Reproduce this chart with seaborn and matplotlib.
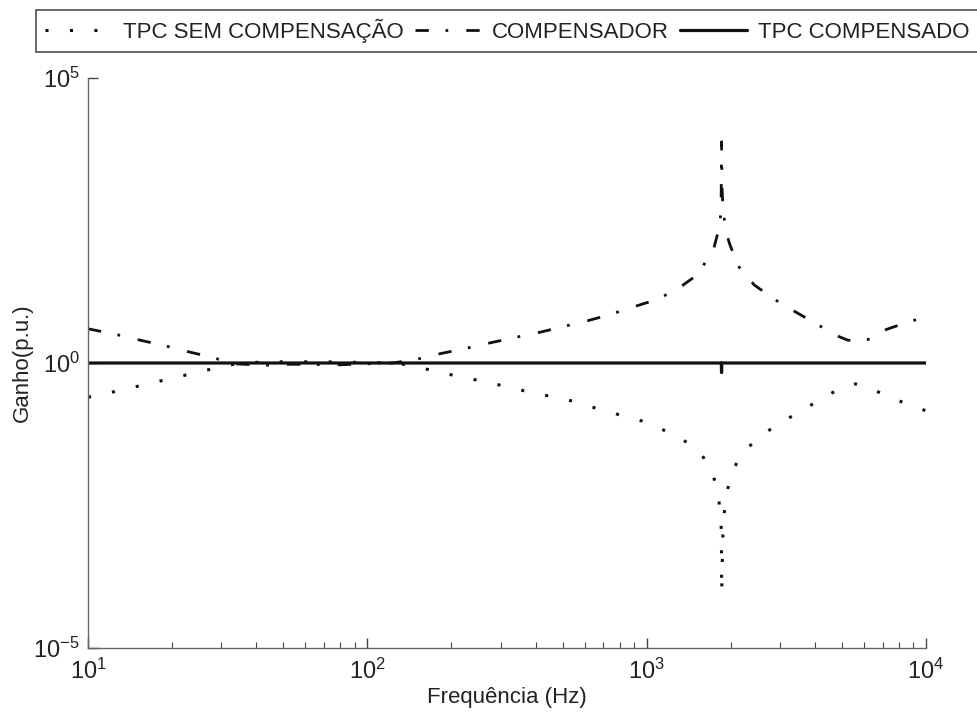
import numpy as np
import pandas as pd
import seaborn as sns
import matplotlib.pyplot as plt
from matplotlib.ticker import FuncFormatter, LogLocator, NullLocator

# Values (frequency in Hz, gain in p.u.)
freq_sem = [10, 12.0, 14.1, 16.6, 19.5, 22.9, 26.9, 31.6, 37.2, 50, 70.8, 100, 126,
            145, 200, 282, 380, 525, 708, 966, 1288, 1466, 1585, 1718, 1797, 1832,
            1852, 1853, 1854, 1856, 1866, 1873, 1888, 1920, 1989, 2113, 2333, 2640,
            3020, 3455, 3963, 4536, 5218, 5600, 6118, 7063, 8436, 9772, 10000]
gain_sem = [0.251, 0.302, 0.363, 0.437, 0.525, 0.631, 0.759, 0.912, 1.02, 1.05, 1.05,
            1.02, 1.0, 0.89, 0.62, 0.437, 0.309, 0.224, 0.145, 0.0955, 0.0525, 0.0339,
            0.0234, 0.0120, 0.00562, 0.00251, 0.00112, 5.0e-4, 2.1e-4, 9.3e-5, 3.8e-4,
            8.7e-4, 1.9e-3, 4.4e-3, 9.3e-3, 0.0191, 0.0347, 0.0589, 0.0891, 0.132,
            0.195, 0.288, 0.398, 0.43, 0.380, 0.282, 0.195, 0.151, 0.145]

freq_comp = [10, 12.5, 15.4, 18.9, 23.2, 28.4, 32.1, 43, 52.5, 79.4, 123, 150, 185,
             227, 279, 340, 416, 504, 614, 740, 891, 1072, 1276, 1521, 1734, 1832,
             1848, 1854, 1860, 1879, 1928, 1977, 2128, 2427, 2858, 3373, 4009, 4732,
             5250, 5781, 6310, 6855, 8730, 10000]
gain_comp = [3.98, 3.20, 2.51, 2.00, 1.55, 1.23, 0.98, 0.91, 0.95, 0.93, 1.0, 1.16,
             1.48, 1.82, 2.29, 2.82, 3.47, 4.37, 5.50, 7.08, 9.55, 12.7, 19.1, 35.5,
             97.7, 269, 794, 7590, 1259, 447, 200, 126, 50.1, 23.4, 13.2, 8.13, 5.01,
             3.09, 2.51, 2.45, 2.63, 3.55, 5.37, 6.31]

freq_tot = [10, 1850, 1854, 1858, 10000]
gain_tot = [1.0, 1.0, 0.68, 1.0, 1.0]

labels = ['TPC SEM COMPENSAÇÃO', 'COMPENSADOR', 'TPC COMPENSADO']

sns.set_style('white')
plt.rcParams['font.family'] = ['Liberation Sans', 'DejaVu Sans']
plt.rcParams['mathtext.fontset'] = 'custom'
plt.rcParams['mathtext.rm'] = 'Liberation Sans'
plt.rcParams['mathtext.it'] = 'Liberation Sans'
plt.rcParams['mathtext.default'] = 'regular'
fs = 16

fig = plt.figure(figsize=(9.78, 7.18), dpi=100)
ax = fig.add_axes([88 / 978, 1 - 648 / 718, (926 - 88) / 978, (648 - 78) / 718])

df_sem = pd.DataFrame({'f': freq_sem, 'g': gain_sem})
df_comp = pd.DataFrame({'f': freq_comp, 'g': gain_comp})
df_tot = pd.DataFrame({'f': freq_tot, 'g': gain_tot})

sns.lineplot(data=df_sem, x='f', y='g', sort=False, estimator=None, ax=ax,
             color='#111111', lw=2.2, linestyle=(0, (1, 7)), label=labels[0])
sns.lineplot(data=df_comp, x='f', y='g', sort=False, estimator=None, ax=ax,
             color='#111111', lw=2.0, linestyle=(0, (4.8, 6.0, 1.0, 6.5)), label=labels[1])
sns.lineplot(data=df_tot, x='f', y='g', sort=False, estimator=None, ax=ax,
             color='#111111', lw=2.3, label=labels[2])

ax.set_xscale('log')
ax.set_yscale('log')
ax.set_xlim(10, 1e4)
ax.set_ylim(1e-5, 1e5)
ax.set_yticks([1e-5, 1, 1e5])
ax.yaxis.set_minor_locator(NullLocator())
ax.xaxis.set_major_locator(LogLocator(base=10))
ax.xaxis.set_minor_locator(LogLocator(base=10, subs=np.arange(2, 10)))

fmt = FuncFormatter(lambda v, _: r'$10^{%d}$' % int(round(np.log10(v))))
ax.xaxis.set_major_formatter(fmt)
ax.yaxis.set_major_formatter(fmt)

for s in ['top', 'right']:
    ax.spines[s].set_visible(False)
for s in ['left', 'bottom']:
    ax.spines[s].set_color('#666666')
    ax.spines[s].set_linewidth(1.0)

ax.tick_params(which='both', direction='in', bottom=True, left=True,
               color='#444444', labelcolor='#222222', labelsize=fs + 1)
ax.tick_params(which='major', length=7, width=1)
ax.tick_params(which='minor', length=4.5, width=0.8)
ax.tick_params(axis='x', pad=8)
ax.tick_params(axis='y', pad=6)

ax.set_xlabel('Frequência (Hz)', fontsize=fs, color='#222222', labelpad=2)
ax.set_ylabel('Ganho(p.u.)', fontsize=fs, color='#222222', labelpad=0)

handles, labs = ax.get_legend_handles_labels()
ax.get_legend().remove()
leg = fig.legend(handles, labs, loc='upper left', bbox_to_anchor=(36 / 978, 1 - 10 / 718),
                 ncol=3, fontsize=fs, frameon=True, fancybox=False, edgecolor='#222222',
                 borderpad=0.4, handlelength=3, handletextpad=0.5, columnspacing=0.5,
                 borderaxespad=0)
leg.get_frame().set_linewidth(1.2)
for t in leg.get_texts():
    t.set_color('#222222')

fig.savefig('out.png', dpi=100, facecolor='white')
